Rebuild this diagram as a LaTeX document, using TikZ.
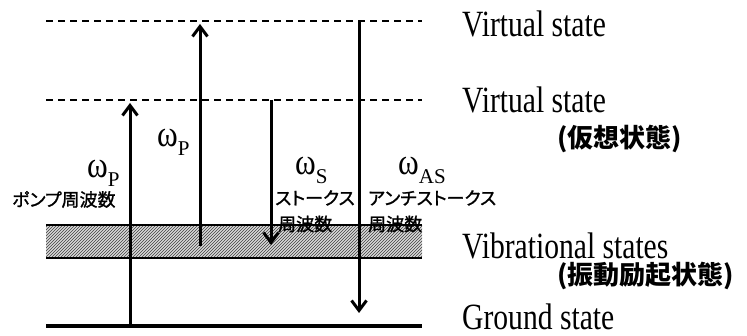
\documentclass[tikz,border=0pt]{standalone}
\usepackage{fontspec}
\setmainfont{Liberation Serif}
\newfontfamily\jpfont[RawFeature=+palt,FakeBold=1.2]{Noto Sans CJK JP}
\newfontfamily\jpbfont{Noto Sans CJK JP}
\usetikzlibrary{arrows.meta,patterns}
\newcommand\hsq[2]{\scalebox{#1}[1]{#2}}
\newcommand\omlab[1]{\hsq{0.85}{\fontsize{37}{37}\selectfont ω}\raisebox{-9pt}{\fontsize{21}{21}\selectfont #1}}
\tikzset{
  virtline/.style={line width=1.6pt, dash pattern=on 7pt off 5pt},
  groundline/.style={line width=3.2pt},
  bandedge/.style={line width=1.2pt},
  photon/.style={line width=3pt, -{Straight Barb[length=10pt,width=15pt,line width=3pt]}},
  en/.style={inner sep=0pt, anchor=base west, font=\fontsize{37}{37}\selectfont},
  om/.style={inner sep=0pt, anchor=base west},
  jps/.style={inner sep=0pt, anchor=west, text height=0.88em, text depth=0.12em, font=\jpfont\fontsize{18}{18}\selectfont},
  jpb/.style={inner sep=0pt, anchor=west, text height=0.88em, text depth=0.12em, font=\jpbfont\bfseries\fontsize{26}{26}\selectfont}
}
\begin{document}
\begin{tikzpicture}[x=1pt,y=-1pt]
\useasboundingbox (0,0) rectangle (747,336);
% levels
\coordinate (v1L) at (46,21);  \coordinate (v1R) at (422,21);
\coordinate (v2L) at (46,100); \coordinate (v2R) at (422,100);
\coordinate (bTL) at (46,225); \coordinate (bTR) at (422,225);
\coordinate (bBL) at (46,258); \coordinate (bBR) at (422,258);
\coordinate (gL) at (46,326);  \coordinate (gR) at (422,326);
\draw[virtline] (v1L) -- (v1R);
\draw[virtline] (v2L) -- (v2R);
\fill[gray!30] (bTL) rectangle (bBR);
\fill[pattern=north east lines, pattern color=black!75] (bTL) rectangle (bBR);
\draw[bandedge] (bTL) -- (bTR);
\draw[bandedge] (bBL) -- (bBR);
% transitions
\coordinate (a1s) at (130,326); \coordinate (a1e) at (130,103);
\coordinate (a2s) at (200,246); \coordinate (a2e) at (200,24);
\coordinate (a3s) at (271,100); \coordinate (a3e) at (271,245);
\coordinate (a4s) at (359,22);  \coordinate (a4e) at (359,313);
\draw[photon, black] (a1s) -- (a1e);
\draw[photon, black] (a2s) -- (a2e);
\draw[photon, black] (a3s) -- (a3e);
\draw[photon, black] (a4s) -- (a4e);
\draw[groundline] (gL) -- (gR);
% omega labels
\node[om] (wp1) at (87,178) {\omlab{P}};
\node[om] (wp2) at (157,147) {\omlab{P}};
\node[om] (ws) at (295,175) {\omlab{S}};
\node[om] (was) at (398,175) {\omlab{AS}};
% japanese small labels
\node[jps] (pump) at (12,202.5) {ポンプ周波数};
\node[jps] (stokes) at (275,201) {ストークス};
\node[jps] (stokesf) at (278,227) {周波数};
\node[jps] (astokes) at (368,201) {アンチストークス};
\node[jps] (astokesf) at (368,227) {周波数};
% right labels
\node[en] (vs1) at (462,37) {\hsq{0.8}{Virtual state}};
\node[en] (vs2) at (462,113) {\hsq{0.8}{Virtual state}};
\node[jpb] (kaso) at (557,144) {(仮想状態)};
\node[en] (vib) at (462,259) {\hsq{0.8}{Vibrational states}};
\node[jpb] (shindo) at (557,281) {(振動励起状態)};
\node[en] (gs) at (462,330) {\hsq{0.8}{Ground state}};
\end{tikzpicture}
\end{document}
